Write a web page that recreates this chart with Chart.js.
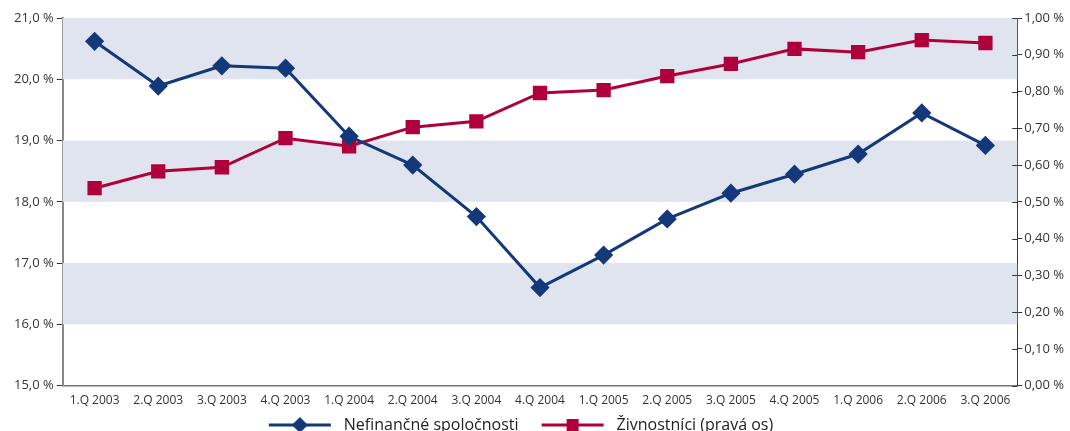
<!DOCTYPE html>
<html>
<head>
<meta charset="utf-8">
<script src="https://cdn.jsdelivr.net/npm/chart.js@4"></script>
<style>
  html, body { margin: 0; padding: 0; background: #fff; overflow: hidden; }
  #wrap { width: 1070px; height: 443px; position: relative; }
</style>
</head>
<body>
<div id="wrap"><canvas id="chart"></canvas></div>
<script>
// štvrťroky
const quarters = [
  "1.Q 2003", "2.Q 2003", "3.Q 2003", "4.Q 2003",
  "1.Q 2004", "2.Q 2004", "3.Q 2004", "4.Q 2004",
  "1.Q 2005", "2.Q 2005", "3.Q 2005", "4.Q 2005",
  "1.Q 2006", "2.Q 2006", "3.Q 2006"
];
// ľavá os (%)
const nefinancne = [20.62, 19.89, 20.22, 20.18, 19.07, 18.60, 17.76, 16.60, 17.13, 17.72, 18.14, 18.45, 18.78, 19.45, 18.92];
// pravá os (%)
const zivnostnici = [0.537, 0.583, 0.594, 0.673, 0.651, 0.703, 0.719, 0.796, 0.804, 0.842, 0.875, 0.916, 0.907, 0.940, 0.932];
// pásy pozadia na ľavej osi
const bands = [[20, 21], [18, 19], [16, 17]];

const BLUE = "#13397a";
const RED = "#b0003c";
const BAND = "#dfe4ee";
const FONT = "'Open Sans', sans-serif";

// legendová značka: čiara + symbol (s prázdnym okrajom kvôli medzerám)
function legendIcon(color, shape) {
    const c = document.createElement("canvas");
    c.width = 88; c.height = 18;
    const g = c.getContext("2d");
    const x0 = 21, cx = x0 + 31;
    g.strokeStyle = color;
    g.lineWidth = 3;
    g.beginPath(); g.moveTo(x0, 9); g.lineTo(x0 + 62, 9); g.stroke();
    g.fillStyle = color;
    g.beginPath();
    if (shape === "diamond") {
        g.moveTo(cx, 1); g.lineTo(cx + 8, 9); g.lineTo(cx, 17); g.lineTo(cx - 8, 9);
    } else {
        g.rect(cx - 6, 3, 12, 12);
    }
    g.closePath(); g.fill();
    return c;
}
const icons = [legendIcon(BLUE, "diamond"), legendIcon(RED, "square")];

// pásy + vnútorné tiky pravej osi + posun legendy
const bandsPlugin = {
    id: "bands",
    afterLayout(chart) {
        chart.legend.left -= 28;
        chart.legend.right -= 28;
    },
    beforeDatasetsDraw(chart) {
        const { ctx, chartArea, scales } = chart;
        ctx.save();
        ctx.fillStyle = BAND;
        bands.forEach(b => {
            const y1 = scales.y.getPixelForValue(b[1]);
            const y0 = scales.y.getPixelForValue(b[0]);
            ctx.fillRect(chartArea.left, y1, chartArea.right - chartArea.left, y0 - y1);
        });
        ctx.restore();
    },
    afterDraw(chart) {
        const { ctx, chartArea, scales } = chart;
        ctx.save();
        ctx.strokeStyle = "#333";
        ctx.lineWidth = 1;
        scales.y1.ticks.forEach(t => {
            const y = Math.round(scales.y1.getPixelForValue(t.value)) + 0.5;
            ctx.beginPath();
            ctx.moveTo(chartArea.right - 5, y);
            ctx.lineTo(chartArea.right, y);
            ctx.stroke();
        });
        ctx.restore();
    }
};

new Chart(document.getElementById("chart"), {
    type: "line",
    data: {
        labels: quarters,
        datasets: [
            {
                label: "Nefinančné spoločnosti",
                data: nefinancne,
                yAxisID: "y",
                borderColor: BLUE,
                backgroundColor: BLUE,
                borderWidth: 3,
                pointStyle: "rectRot",
                pointRadius: 7.5,
                pointHoverRadius: 7.5,
                tension: 0
            },
            {
                label: "Živnostníci (pravá os)",
                data: zivnostnici,
                yAxisID: "y1",
                borderColor: RED,
                backgroundColor: RED,
                borderWidth: 3,
                pointStyle: "rect",
                pointRadius: 8,
                pointHoverRadius: 8,
                tension: 0
            }
        ]
    },
    options: {
        responsive: true,
        maintainAspectRatio: false,
        animation: false,
        layout: { padding: { top: 18, left: 11, right: 4, bottom: 0 } },
        plugins: {
            tooltip: { enabled: false },
            legend: {
                position: "bottom",
                labels: {
                    usePointStyle: true,
                    pointStyleWidth: 88,
                    padding: 2,
                    color: "#222",
                    font: { family: FONT, size: 16 },
                    generateLabels(chart) {
                        return chart.data.datasets.map((ds, i) => ({
                            text: ds.label,
                            pointStyle: icons[i],
                            fillStyle: ds.borderColor,
                            strokeStyle: ds.borderColor,
                            lineWidth: 0,
                            hidden: false,
                            datasetIndex: i,
                            fontColor: "#222"
                        }));
                    }
                }
            }
        },
        scales: {
            x: {
                offset: true,
                grid: { display: false, drawTicks: false },
                border: { display: true, color: "#777", width: 1.5 },
                ticks: { color: "#333", font: { family: FONT, size: 12 }, maxRotation: 0, autoSkip: false, padding: 7.5 }
            },
            y: {
                position: "left",
                min: 15, max: 21,
                border: { display: true, color: "#888", width: 2 },
                grid: { drawOnChartArea: false, tickLength: 6, color: "#333" },
                ticks: {
                    stepSize: 1,
                    color: "#333",
                    padding: 3,
                    font: { family: FONT, size: 13 },
                    callback: v => v.toFixed(1).replace(".", ",") + " %"
                }
            },
            y1: {
                position: "right",
                min: 0, max: 1,
                border: { display: true, color: "#333", width: 1 },
                grid: { drawOnChartArea: false, tickLength: 5, color: "#333" },
                ticks: {
                    stepSize: 0.1,
                    color: "#333",
                    padding: 2,
                    font: { family: FONT, size: 13 },
                    callback: v => v.toFixed(2).replace(".", ",") + " %"
                }
            }
        }
    },
    plugins: [bandsPlugin]
});
</script>
</body>
</html>
